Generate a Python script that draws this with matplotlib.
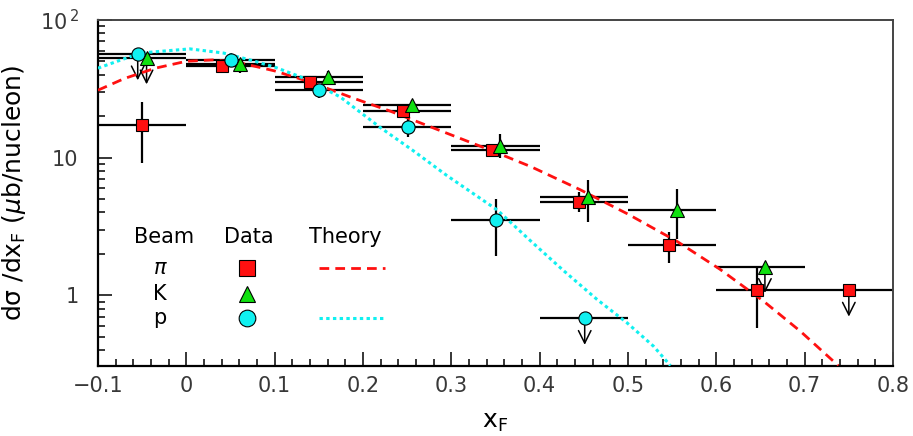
import numpy as np
import matplotlib
matplotlib.use("Agg")
import matplotlib.pyplot as plt
from matplotlib.ticker import FixedLocator, FixedFormatter, LogLocator, NullFormatter, MultipleLocator

plt.rcParams["font.family"] = ["DejaVu Sans"]
plt.rcParams["mathtext.fontset"] = "dejavusans"

# pion beam: x, y, error band, bin edges, upper-limit flags
pi_x = [-0.05, 0.04, 0.14, 0.245, 0.346, 0.445, 0.546, 0.646, 0.75]
pi_y = [17.3, 46.4, 35.5, 21.9, 11.4, 4.8, 2.34, 1.09, 1.09]
pi_ylo = [9.2, 44.5, 34.0, 21.0, 10.6, 4.0, 1.73, 0.58, 1.09]
pi_yhi = [25.5, 48.5, 37.0, 22.9, 12.0, 5.6, 2.9, 1.62, 1.09]
pi_bin = [-0.1, 0.0, 0.1, 0.2, 0.3, 0.4, 0.5, 0.6, 0.7]
pi_ul = [False, False, False, False, False, False, False, False, True]

# kaon beam
k_x = [-0.045, 0.061, 0.16, 0.256, 0.355, 0.455, 0.555, 0.655]
k_y = [53.0, 48.0, 38.6, 24.2, 12.2, 5.2, 4.2, 1.62]
k_ylo = [53.0, 41.5, 34.6, 21.2, 10.0, 3.4, 2.55, 1.62]
k_yhi = [53.0, 51.3, 42.7, 26.2, 14.9, 6.9, 5.96, 1.62]
k_bin = [-0.1, 0.0, 0.1, 0.2, 0.3, 0.4, 0.5, 0.6]
k_ul = [True, False, False, False, False, False, False, True]

# proton beam
p_x = [-0.055, 0.051, 0.15, 0.251, 0.351, 0.451]
p_y = [56.7, 51.3, 31.1, 16.8, 3.5, 0.68]
p_ylo = [56.7, 47.3, 27.2, 14.2, 1.92, 0.68]
p_yhi = [56.7, 57.6, 33.7, 19.2, 5.04, 0.68]
p_bin = [-0.1, 0.0, 0.1, 0.2, 0.3, 0.4]
p_ul = [True, False, False, False, False, True]

BIN_WIDTH = 0.1

# theory curves (log10 of dsigma/dxF)
th_pi_x = [-0.1, -0.07, -0.035, 0.0, 0.03, 0.06, 0.10, 0.14, 0.19, 0.23, 0.29,
           0.346, 0.39, 0.445, 0.50, 0.556, 0.604, 0.653, 0.695, 0.738]
th_pi_log = [1.49, 1.575, 1.65, 1.70, 1.71, 1.69, 1.63, 1.55, 1.43, 1.34, 1.19,
             1.05, 0.935, 0.77, 0.59, 0.39, 0.19, -0.04, -0.26, -0.51]
th_p_x = [-0.1, -0.052, 0.004, 0.042, 0.072, 0.10, 0.132, 0.174, 0.22, 0.257,
          0.295, 0.352, 0.389, 0.427, 0.465, 0.499, 0.529, 0.548]
th_p_log = [1.65, 1.76, 1.79, 1.76, 1.71, 1.658, 1.58, 1.442, 1.217, 1.05,
            0.87, 0.62, 0.40, 0.18, -0.03, -0.2, -0.37, -0.51]

RED = "#ff1010"
GREEN = "#10e010"
CYAN = "#10f0f0"
RED_DASH = (0, (3.5, 2.2))
CYAN_DOT = (0, (1.1, 1.1))


def draw_series(ax, xs, ys, ylo, yhi, bins, ul, marker, color, ms):
    xs = np.array(xs)
    ys = np.array(ys)
    lo = np.array(bins)
    xerr = [xs - lo, lo + BIN_WIDTH - xs]
    yerr = [ys - np.array(ylo), np.array(yhi) - ys]
    ax.errorbar(xs, ys, xerr=xerr, yerr=yerr, fmt="none", ecolor="black",
                elinewidth=1.6, capsize=0, zorder=2)
    for x, y, flag in zip(xs, ys, ul):
        if flag:
            ax.annotate("", xy=(x, y), xytext=(0, -19), textcoords="offset points",
                        arrowprops=dict(arrowstyle="<-, head_length=0.9, head_width=0.45",
                                        color="black", lw=1.1, shrinkA=0, shrinkB=0),
                        zorder=3)
    ax.plot(xs, ys, linestyle="none", marker=marker, color=color, ms=ms,
            markeredgecolor="black", markeredgewidth=0.8, zorder=5)


fig = plt.figure(figsize=(9.13, 4.36), dpi=100)
ax = fig.add_axes([0.1073, 0.1606, 0.8708, 0.7936])

ax.plot(th_pi_x, 10 ** np.array(th_pi_log), color=RED, lw=2.0,
        linestyle=RED_DASH, zorder=4)
ax.plot(th_p_x, 10 ** np.array(th_p_log), color=CYAN, lw=2.2,
        linestyle=CYAN_DOT, zorder=4)

draw_series(ax, pi_x, pi_y, pi_ylo, pi_yhi, pi_bin, pi_ul, "s", RED, 8.6)
draw_series(ax, k_x, k_y, k_ylo, k_yhi, k_bin, k_ul, "^", GREEN, 9.5)
draw_series(ax, p_x, p_y, p_ylo, p_yhi, p_bin, p_ul, "o", CYAN, 9.5)

ax.set_yscale("log")
ax.set_xlim(-0.1, 0.8)
ax.set_ylim(0.307, 100)

ax.yaxis.set_major_locator(FixedLocator([1, 10, 100]))
ax.yaxis.set_major_formatter(FixedFormatter(["1", "10", r"$\mathdefault{10^{\,2}}$"]))
ax.yaxis.set_minor_locator(LogLocator(base=10, subs=np.arange(2, 10)))
ax.yaxis.set_minor_formatter(NullFormatter())
ax.xaxis.set_major_locator(MultipleLocator(0.1))
ax.xaxis.set_minor_locator(MultipleLocator(0.02))
ax.set_xticks(np.arange(-0.1, 0.81, 0.1))
ax.set_xticklabels(["\u22120.1", "0", "0.1", "0.2", "0.3", "0.4", "0.5", "0.6", "0.7", "0.8"])

ax.tick_params(which="both", direction="in", top=False, right=False,
               width=1.1, colors="black", labelcolor="#383838", labelsize=15)
ax.tick_params(axis="y", which="major", length=10, pad=14)
ax.tick_params(axis="y", which="minor", length=5)
ax.tick_params(axis="x", which="major", length=10, pad=7)
ax.tick_params(axis="x", which="minor", length=5)

for side in ("left", "bottom"):
    ax.spines[side].set_linewidth(1.6)
for side in ("top", "right"):
    ax.spines[side].set_linewidth(1.4)
    ax.spines[side].set_color("#444444")

ax.set_xlabel(r"x$_\mathregular{F}$", fontsize=18, labelpad=10)
ax.set_ylabel(r"d$\mathregular{\sigma}$ /dx$_\mathregular{F}$ ($\mu$b/nucleon)",
              fontsize=18, labelpad=8)

# legend block
ax.text(0.083, 0.373, "Beam", transform=ax.transAxes, fontsize=15, ha="center", va="center")
ax.text(0.190, 0.373, "Data", transform=ax.transAxes, fontsize=15, ha="center", va="center")
ax.text(0.311, 0.373, "Theory", transform=ax.transAxes, fontsize=15, ha="center", va="center")
rows_y = [0.283, 0.208, 0.139]
ax.text(0.078, rows_y[0], r"$\pi$", transform=ax.transAxes, fontsize=15, ha="center", va="center")
ax.text(0.078, rows_y[1], "K", transform=ax.transAxes, fontsize=15, ha="center", va="center")
ax.text(0.078, rows_y[2], "p", transform=ax.transAxes, fontsize=15, ha="center", va="center")
ax.plot([0.187], [rows_y[0]], "s", color=RED, ms=11, mec="black", mew=0.8, transform=ax.transAxes)
ax.plot([0.187], [rows_y[1]], "^", color=GREEN, ms=12, mec="black", mew=0.8, transform=ax.transAxes)
ax.plot([0.187], [rows_y[2]], "o", color=CYAN, ms=12, mec="black", mew=0.8, transform=ax.transAxes)
ax.plot([0.278, 0.361], [rows_y[0]] * 2, color=RED, lw=2.0, linestyle=RED_DASH,
        transform=ax.transAxes)
ax.plot([0.278, 0.361], [rows_y[2]] * 2, color=CYAN, lw=2.2, linestyle=CYAN_DOT,
        transform=ax.transAxes)

fig.savefig("out.png", dpi=100)
